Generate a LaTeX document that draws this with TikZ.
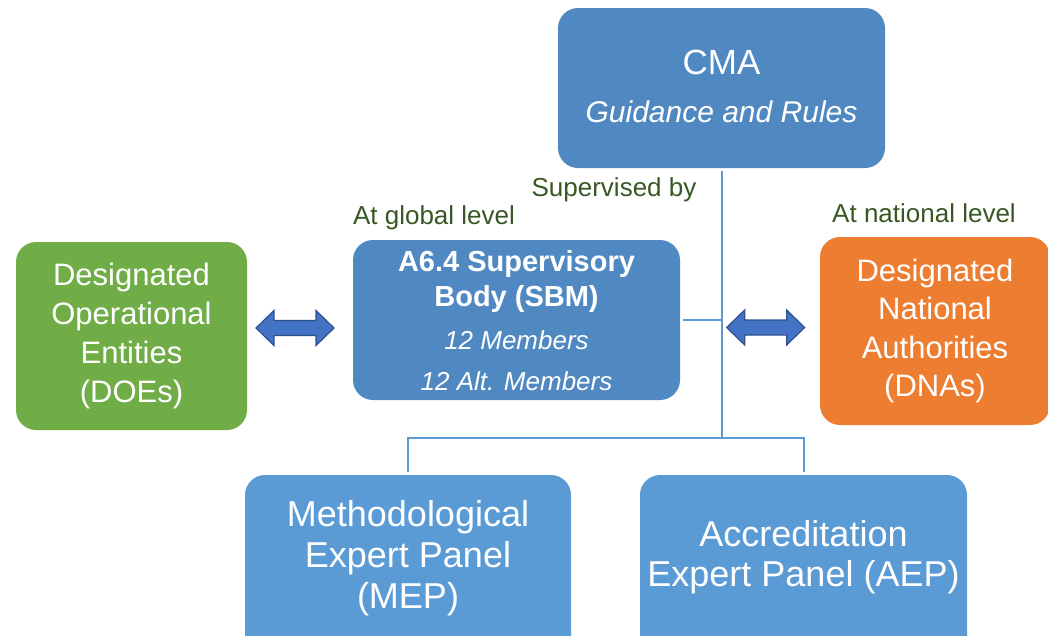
\documentclass[tikz,border=0pt]{standalone}
\usepackage{fontspec}
\setmainfont{Liberation Sans}
\usetikzlibrary{calc}
\definecolor{cmablue}{RGB}{80,137,193}
\definecolor{panelblue}{RGB}{91,155,213}
\definecolor{doegreen}{RGB}{112,173,71}
\definecolor{dnaorange}{RGB}{237,125,49}
\definecolor{lblgreen}{RGB}{56,87,35}
\definecolor{arrfill}{RGB}{68,114,196}
\definecolor{arredge}{RGB}{47,82,143}
\definecolor{linkblue}{RGB}{91,155,213}
\begin{document}
\begin{tikzpicture}[x=1pt,y=-1pt,
  box/.style={rounded corners=20pt, draw=none, text=white, align=center, inner sep=0pt},
  txt/.style={text=white, align=center, inner sep=0pt},
  link/.style={draw=linkblue, line width=2pt},
  lbl/.style={text=lblgreen, font=\fontsize{26}{30}\selectfont, inner sep=0pt},
  dblarrow/.pic={
    \draw[fill=arrfill, draw=arredge, line width=1.2pt, line join=miter]
      (-39,0) -- (-21,-17.5) -- (-21,-7.5) -- (21,-7.5) -- (21,-17.5) -- (39,0)
      -- (21,17.5) -- (21,7.5) -- (-21,7.5) -- (-21,17.5) -- cycle;
  }]
\useasboundingbox (0,0) rectangle (1048,635);

% boxes
\node[box, fill=cmablue, minimum width=327pt, minimum height=160pt] (cma) at (721.5,88) {};
\node[txt, font=\fontsize{35}{40}\selectfont] (cmat) at (721.5,62) {CMA};
\node[txt, font=\fontsize{30}{36}\selectfont\itshape] (cmag) at (721.5,112) {Guidance and Rules};

\node[box, fill=cmablue, minimum width=327pt, minimum height=160pt] (sbm) at (516.5,320) {};
\node[txt, font=\fontsize{29}{35}\selectfont\bfseries] (sbmt) at (516.5,281) {A6.4 Supervisory\\Body (SBM)};
\node[txt, font=\fontsize{26}{41}\selectfont\itshape] (sbmm) at (516.5,361) {12 Members\\12 Alt. Members};

\node[box, fill=doegreen, minimum width=231pt, minimum height=188pt,
      font=\fontsize{31}{39}\selectfont] (doe) at (131.5,336)
      {Designated\\Operational\\Entities\\(DOEs)};

\node[box, fill=dnaorange, minimum width=230pt, minimum height=188pt,
      font=\fontsize{31}{38.5}\selectfont] (dna) at (935,331)
      {Designated\\National\\Authorities\\(DNAs)};
% (text of DNA sits slightly low in its box)

\node[box, fill=panelblue, minimum width=326pt, minimum height=200pt] (mep) at (408,575) {};
\node[txt, font=\fontsize{36}{41}\selectfont] (mept) at (408,558) {Methodological\\Expert Panel\\(MEP)};

\node[box, fill=panelblue, minimum width=327pt, minimum height=200pt] (aep) at (803.5,575) {};
\node[txt, font=\fontsize{36}{40}\selectfont] (aept) at (803.5,557) {Accreditation\\Expert Panel (AEP)};

% labels
\node[lbl] (sup) at (614,190) {Supervised by};
\node[lbl] (glob) at (434,218) {At global level};
\node[lbl] (nat) at (924,213) {At national level};

% connectors
\coordinate (j) at ($(cma.south)+(0,270)$);
\draw[link] ([yshift=-3pt]cma.south) -- (j);
\draw[link] ([xshift=3pt]sbm.east) -- (sbm.east -| cma.south);
\draw[link] (j) -| ([yshift=3pt]mep.north);
\draw[link] (j) -| ([yshift=3pt]aep.north);

% double arrows
\coordinate (a1) at ($(doe.east)!0.5!(sbm.west)+(-5,0)$);
\coordinate (a2) at ($(sbm.east -| cma.south)!0.5!(dna.west)+(-5,2)$);
\pic at (a1) {dblarrow};
\pic at (a2) {dblarrow};
\end{tikzpicture}
\end{document}
